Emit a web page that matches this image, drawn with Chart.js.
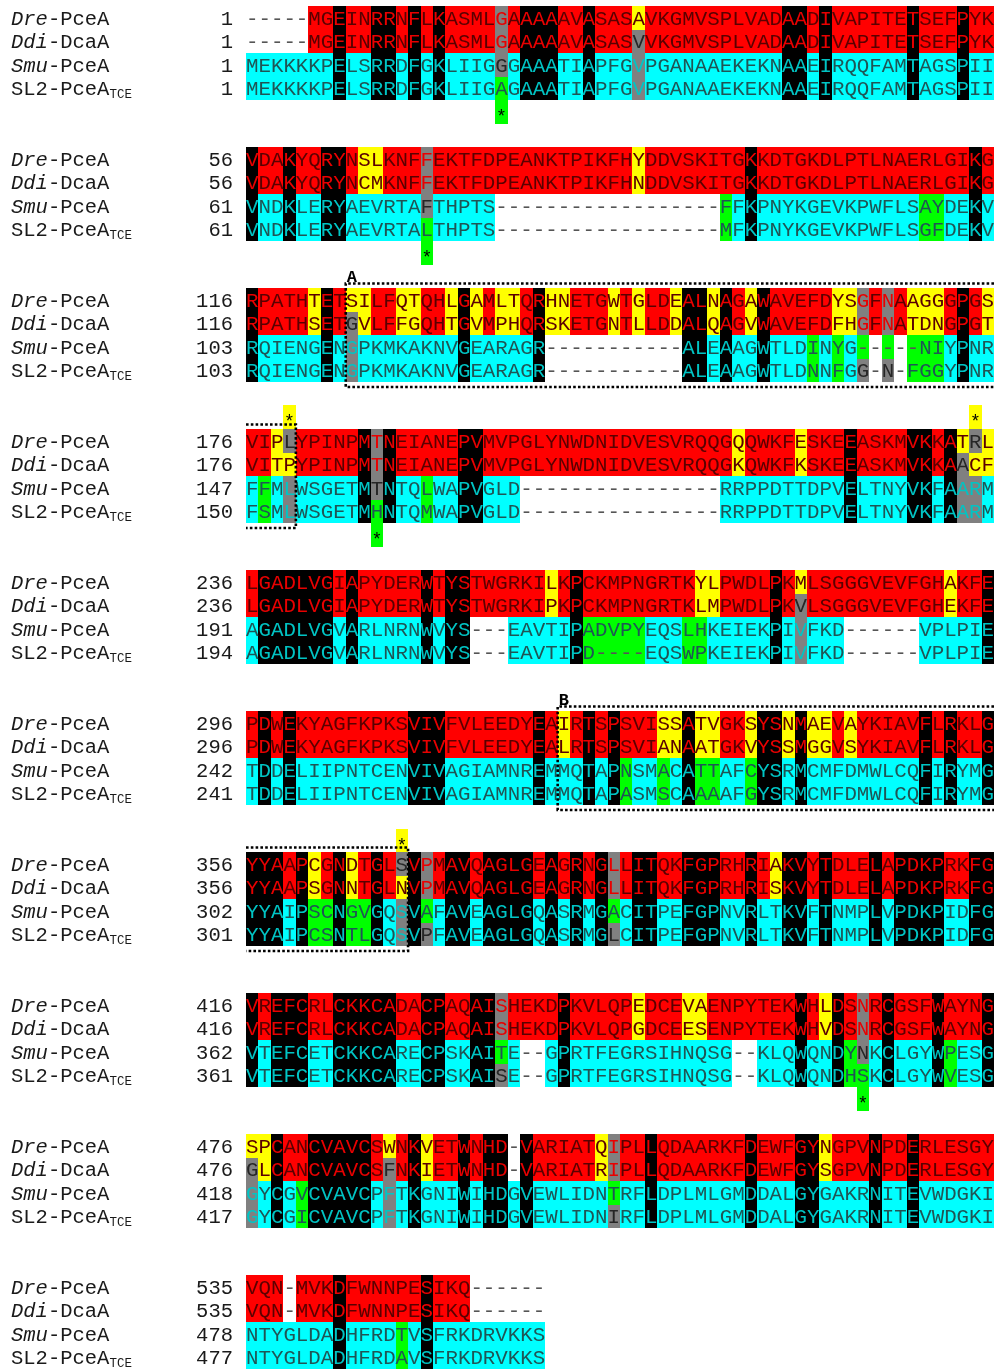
<!DOCTYPE html>
<html><head><meta charset="utf-8">
<script src="https://cdn.jsdelivr.net/npm/chart.js@4/dist/chart.umd.min.js"></script>
<style>html,body{margin:0;padding:0;background:#fff;overflow:hidden}</style>
</head><body>
<canvas id="c" width="994" height="1369"></canvas>
<script>
// ---- data: aligned sequence blocks (60 columns each) ----
const dreBlocks = [
"-----MGEINRRNFLKASMLGAAAAAVASASAVKGMVSPLVADAADIVAPITETSEFPYK",
"VDAKYQRYNSLKNFFEKTFDPEANKTPIKFHYDDVSKITGKKDTGKDLPTLNAERLGIKG",
"RPATHTETSILFQTQHLGAMLTQRHNETGWTGLDEALNAGAWAVEFDYSGFNAAGGGPGS",
"VIPLYPINPMTNEIANEPVMVPGLYNWDNIDVESVRQQGQQWKFESKEEASKMVKKATRL",
"LGADLVGIAPYDERWTYSTWGRKILKPCKMPNGRTKYLPWDLPKMLSGGGVEVFGHAKFE",
"PDWEKYAGFKPKSVIVFVLEEDYEAIRTSPSVISSATVGKSYSNMAEVAYKIAVFLRKLG",
"YYAAPCGNDTGLSVPMAVQAGLGEAGRNGLLITQKFGPRHRIAKVYTDLELAPDKPRKFG",
"VREFCRLCKKCADACPAQAISHEKDPKVLQPEDCEVAENPYTEKWHLDSNRCGSFWAYNG",
"SPCANCVAVCSWNKVETWNHD-VARIATQIPLLQDAARKFDEWFGYNGPVNPDERLESGY",
"VQN-MVKDFWNNPESIKQ------"];
const ddiBlocks = [
"-----MGEINRRNFLKASMLGAAAAAVASASVVKGMVSPLVADAADIVAPITETSEFPYK",
"VDAKYQRYNCMKNFFEKTFDPEANKTPIKFHNDDVSKITGKKDTGKDLPTLNAERLGIKG",
"RPATHSETGVLFFGQHTGVMPHQRSKETGNTLLDDALQAGVWAVEFDFHGFNATDNGPGT",
"VITPYPINPMTNEIANEPVMVPGLYNWDNIDVESVRQQGKQWKFKSKEEASKMVKKAACF",
"LGADLVGIAPYDERWTYSTWGRKIPKPCKMPNGRTKLMPWDLPKVLSGGGVEVFGHEKFE",
"PDWEKYAGFKPKSVIVFVLEEDYEALRTSPSVIANAATGKVYSSMGGVSYKIAVFLRKLG",
"YYAAPSGNNTGLNVPMAVQAGLGEAGRNGLLITQKFGPRHRISKVYTDLELAPDKPRKFG",
"VREFCRLCKKCADACPAQAISHEKDPKVLQPGDCEESENPYTEKWHVDSNRCGSFWAYNG",
"GLCANCVAVCSFNKIETWNHD-VARIATRIPLLQDAARKFDEWFGYSGPVNPDERLESGY",
"VQN-MVKDFWNNPESIKQ------"];
const smuBlocks = [
"MEKKKKPELSRRDFGKLIIGGGAAATIAPFGVPGANAAEKEKNAAEIRQQFAMTAGSPII",
"VNDKLERYAEVRTAFTHPTS------------------FFKPNYKGEVKPWFLSAYDEKV",
"RQIENGENGPKMKAKNVGEARAGR-----------ALEAAGWTLDINYG-----NIYPNR",
"FFMLWSGETMTNTQLWAPVGLD----------------RRPPDTTDPVELTNYVKFAARM",
"AGADLVGVARLNRNWVYS---EAVTIPADVPYEQSLHKEIEKPIVFKD------VPLPIE",
"TDDELIIPNTCENVIVAGIAMNREMMQTAPNSMACATTAFCYSRMCMFDMWLCQFIRYMG",
"YYAIPSCNGVGQSVAFAVEAGLGQASRMGACITPEFGPNVRLTKVFTNMPLVPDKPIDFG",
"VTEFCETCKKCARECPSKAITE--GPRTFEGRSIHNQSG--KLQWQNDYNKCLGYWPESG",
"GYCGVCVAVCPFTKGNIWIHDGVEWLIDNTRFLDPLMLGMDDALGYGAKRNITEVWDGKI",
"NTYGLDADHFRDTVSFRKDRVKKS"];
const sl2Blocks = [
"MEKKKKPELSRRDFGKLIIGAGAAATIAPFGVPGANAAEKEKNAAEIRQQFAMTAGSPII",
"VNDKLERYAEVRTALTHPTS------------------MFKPNYKGEVKPWFLSGFDEKV",
"RQIENGENGPKMKAKNVGEARAGR-----------ALEAAGWTLDNNFGG-N-FGGYPNR",
"FSMLWSGETMHNTQMWAPVGLD----------------RRPPDTTDPVELTNYVKFAARM",
"AGADLVGVARLNRNWVYS---EAVTIPD----EQSWPKEIEKPIVFKD------VPLPIE",
"TDDELIIPNTCENVIVAGIAMNREMMQTAPASMSCAAAAFGYSRMCMFDMWLCQFIRYMG",
"YYAIPCSNTLGQSVPFAVEAGLGQASRMGLCITPEFGPNVRLTKVFTNMPLVPDKPIDFG",
"VTEFCETCKKCARECPSKAISE--GPRTFEGRSIHNQSG--KLQWQNDHSKCLGYWVESG",
"GYCGICVAVCPFTKGNIWIHDGVEWLIDNIRFLDPLMLGMDDALGYGAKRNITEVWDGKI",
"NTYGLDADHFRDAVSFRKDRVKKS"];

// block start numbers
const dreStarts = [1, 56, 116, 176, 236, 296, 356, 416, 476, 535];
const ddiStarts = [1, 56, 116, 176, 236, 296, 356, 416, 476, 535];
const smuStarts = [1, 61, 103, 147, 191, 242, 302, 362, 418, 478];
const sl2Starts = [1, 61, 103, 150, 194, 241, 301, 361, 417, 477];

// sequence names: italic prefix, plain suffix, subscript
const namePrefix = ["Dre", "Ddi", "Smu", "SL2"];
const nameSuffix = ["-PceA", "-DcaA", "-PceA", "-PceA"];
const nameSubscript = ["", "", "", "TCE"];
const nameItalic = [true, true, true, false];

// marked residues [block, column]
const starsAbove = [[3, 3], [3, 58], [6, 12]];
const starsBelow = [[0, 20], [1, 14], [3, 10], [7, 49]];

// columns shaded without a 3-of-4 consensus [block, column]
const noConsensusCols = [[4, 30]];

// boxed regions: label, segments [block, firstCol, endCol]
const regionA = {label: "A", segments: [[2, 8, 60], [3, 0, 4]]};
const regionB = {label: "B", segments: [[5, 25, 60], [6, 0, 13]]};

// ---- rendering ----
const ROWS = [dreBlocks, ddiBlocks, smuBlocks, sl2Blocks];
const STARTS = [dreStarts, ddiStarts, smuStarts, sl2Starts];
const NB = dreBlocks.length;

const COL = {
  red: '#ff0000', yellow: '#ffff00', black: '#000000', gray: '#808080',
  cyan: '#00ffff', green: '#00ff00',
  topDark: '#5a0000', botDark: '#1f5555', topBright: '#e80000', botBright: '#00c4c4',
  grayDark: '#262626', gap: '#555555'
};

function cellStyle(col4, r, b, c) {
  const ch = col4[r];
  const bottom = r >= 2;
  const mate = col4[r === 0 ? 1 : r === 1 ? 0 : r === 2 ? 3 : 2];
  if (ch === '-' && mate === '-') return {bg: null, fg: COL.gap};
  if (ch !== '-' && col4.every(v => v === ch)) return {bg: COL.black, fg: bottom ? COL.botBright : COL.topBright};
  const n = col4.filter(v => v === ch).length;
  const noCons = noConsensusCols.some(([bb, cc]) => bb === b && cc === c);
  if (!noCons && ch !== '-' && n >= 3) return {bg: COL.gray, fg: mate === ch ? (bottom ? COL.botBright : COL.topBright) : COL.grayDark};
  if (mate === ch) return {bg: bottom ? COL.cyan : COL.red, fg: bottom ? COL.botDark : COL.topDark};
  return {bg: bottom ? COL.green : COL.yellow, fg: ch === '-' ? COL.gap : (bottom ? COL.botDark : COL.topDark)};
}

const cellPoints = [];
for (let b = 0; b < NB; b++) {
  for (let r = 0; r < 4; r++) {
    const s = ROWS[r][b];
    for (let c = 0; c < s.length; c++) cellPoints.push({x: c + 0.5, y: 6 * b + r + 0.5});
  }
}

const SEQ_FONT = "20.8px 'Liberation Mono', 'Courier New', monospace";

const alignPlugin = {
  id: 'alignment',
  afterDatasetsDraw(chart) {
    const {ctx} = chart;
    const xs = chart.scales.x, ys = chart.scales.y;
    const X = v => xs.getPixelForValue(v);
    const Y = v => ys.getPixelForValue(v);
    ctx.save();
    // backgrounds
    for (let b = 0; b < NB; b++) {
      const len = Math.max(...ROWS.map(R => R[b].length));
      for (let c = 0; c < len; c++) {
        const col4 = ROWS.map(R => R[b][c]);
        for (let r = 0; r < 4; r++) {
          if (col4[r] === undefined) continue;
          const st = cellStyle(col4, r, b, c);
          if (!st.bg) continue;
          const x0 = Math.round(X(c)), x1 = Math.round(X(c + 1));
          const y0 = Math.round(Y(6 * b + r)), y1 = Math.round(Y(6 * b + r + 1));
          ctx.fillStyle = st.bg;
          ctx.fillRect(x0, y0, x1 - x0, y1 - y0);
        }
      }
    }
    // star boxes
    const starBox = (b, c, rowOff, color) => {
      const x0 = Math.round(X(c)), x1 = Math.round(X(c + 1));
      const y0 = Math.round(Y(6 * b + rowOff)), y1 = Math.round(Y(6 * b + rowOff + 1));
      ctx.fillStyle = color;
      ctx.fillRect(x0, y0, x1 - x0, y1 - y0);
      ctx.fillStyle = '#000';
      ctx.font = "18px 'Liberation Mono', monospace";
      ctx.textAlign = 'center';
      ctx.textBaseline = 'alphabetic';
      ctx.fillText('*', (x0 + x1) / 2, (y0 + y1) / 2 + 10);
    };
    starsAbove.forEach(([b, c]) => starBox(b, c, -1, COL.yellow));
    starsBelow.forEach(([b, c]) => starBox(b, c, 4, COL.green));
    // letters
    ctx.font = SEQ_FONT;
    ctx.textAlign = 'center';
    ctx.textBaseline = 'alphabetic';
    for (let b = 0; b < NB; b++) {
      const len = Math.max(...ROWS.map(R => R[b].length));
      for (let c = 0; c < len; c++) {
        const col4 = ROWS.map(R => R[b][c]);
        for (let r = 0; r < 4; r++) {
          if (col4[r] === undefined) continue;
          const st = cellStyle(col4, r, b, c);
          ctx.fillStyle = st.fg;
          const cx = X(c + 0.5), cy = Y(6 * b + r + 0.5);
          ctx.fillText(col4[r], cx, cy + 7);
        }
      }
    }
    // labels & numbers
    for (let b = 0; b < NB; b++) {
      for (let r = 0; r < 4; r++) {
        const cy = Y(6 * b + r + 0.5) + 7;
        ctx.fillStyle = '#1a1a1a';
        ctx.textAlign = 'left';
        ctx.font = (nameItalic[r] ? 'italic ' : '') + "20.5px 'Liberation Mono', monospace";
        let x = 11;
        ctx.fillText(namePrefix[r], x, cy);
        x += ctx.measureText(namePrefix[r]).width;
        ctx.font = "20.5px 'Liberation Mono', monospace";
        ctx.fillText(nameSuffix[r], x, cy);
        x += ctx.measureText(nameSuffix[r]).width;
        if (nameSubscript[r]) {
          ctx.font = "12.5px 'Liberation Mono', monospace";
          ctx.fillText(nameSubscript[r], x, cy + 3);
        }
        ctx.font = "20.5px 'Liberation Mono', monospace";
        ctx.textAlign = 'right';
        ctx.fillText(String(STARTS[r][b]), 233, cy);
      }
    }
    // dotted region boxes
    ctx.strokeStyle = '#000';
    ctx.lineWidth = 2.6;
    ctx.setLineDash([2.6, 2.2]);
    const drawRegion = (reg) => {
      reg.segments.forEach(([b, c0, c1], i) => {
        const top = Y(6 * b) - 4.5, bot = Y(6 * b + 4) + 5;
        const xl = X(c0), xr = X(c1);
        ctx.beginPath();
        if (i === 0) {
          ctx.moveTo(xr, top); ctx.lineTo(xl, top); ctx.lineTo(xl, bot); ctx.lineTo(xr, bot);
        } else {
          ctx.moveTo(xl, top); ctx.lineTo(xr, top); ctx.lineTo(xr, bot); ctx.lineTo(xl, bot);
        }
        ctx.stroke();
      });
      const [b0, c0] = reg.segments[0];
      ctx.setLineDash([]);
      ctx.fillStyle = '#000';
      ctx.font = "bold 17px 'Liberation Mono', monospace";
      ctx.textAlign = 'center';
      ctx.fillText(reg.label, X(c0 + 0.5), Y(6 * b0) - 6.5);
      ctx.setLineDash([2.6, 2.2]);
    };
    drawRegion(regionA);
    drawRegion(regionB);
    ctx.restore();
  }
};

new Chart(document.getElementById('c'), {
  type: 'scatter',
  data: {datasets: [{data: cellPoints, pointRadius: 0, pointHoverRadius: 0, showLine: false}]},
  options: {
    responsive: false, animation: false, devicePixelRatio: 1,
    layout: {padding: {left: 246, right: 0, top: 6, bottom: 0}},
    scales: {
      x: {type: 'linear', min: 0, max: 60, display: false},
      y: {type: 'linear', min: 0, max: 58, reverse: true, display: false}
    },
    plugins: {legend: {display: false}, tooltip: {enabled: false}}
  },
  plugins: [alignPlugin]
});
</script>
</body></html>
